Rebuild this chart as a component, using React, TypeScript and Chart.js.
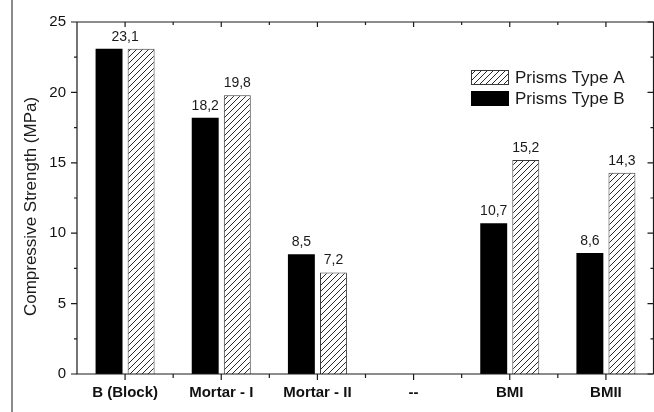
import React, { useEffect, useRef } from "react";
import { Chart, registerables } from "chart.js";

Chart.register(...registerables);

const categories = ["B (Block)", "Mortar - I", "Mortar - II", "--", "BMI", "BMII"];
const typeB: (number | null)[] = [23.1, 18.2, 8.5, null, 10.7, 8.6];
const typeA: (number | null)[] = [23.1, 19.8, 7.2, null, 15.2, 14.3];
const seriesLabels = ["Prisms Type B", "Prisms Type A"];
const yTitle = "Compressive Strength (MPa)";
const yMajorTicks = [0, 5, 10, 15, 20, 25];
const yMinorTicks = [2.5, 7.5, 12.5, 17.5, 22.5];

const FONT = "'Liberation Sans', Arial, sans-serif";
const AXIS_COLOR = "#1a1a1a";

function makeHatch(): CanvasPattern | string {
  const c = document.createElement("canvas");
  const s = 6;
  c.width = s;
  c.height = s;
  const g = c.getContext("2d");
  if (!g) return "#fff";
  g.fillStyle = "#fff";
  g.fillRect(0, 0, s, s);
  g.strokeStyle = "#2a2a2a";
  g.lineWidth = 1;
  g.beginPath();
  g.moveTo(-1, s + 1);
  g.lineTo(s + 1, -1);
  g.moveTo(-1, 1);
  g.lineTo(1, -1);
  g.moveTo(s - 1, s + 1);
  g.lineTo(s + 1, s - 1);
  g.stroke();
  const p = g.createPattern(c, "repeat");
  return p || "#fff";
}

const fmt = (v: number) => v.toFixed(1).replace(".", ",");

const framePlugin = {
  id: "frame",
  afterDraw(chart: any) {
    const ctx = chart.ctx as CanvasRenderingContext2D;
    const { left, right, top, bottom } = chart.chartArea;
    const xs = chart.scales.x;
    const ys = chart.scales.y;
    const r = right - 0.5;
    ctx.save();
    // page frame line
    ctx.fillStyle = "#8c8c8c";
    ctx.fillRect(11, 0, 2, chart.height);
    // axes box
    ctx.strokeStyle = AXIS_COLOR;
    ctx.lineWidth = 1.2;
    ctx.beginPath();
    ctx.moveTo(left, top);
    ctx.lineTo(r, top);
    ctx.lineTo(r, bottom);
    ctx.moveTo(left, top);
    ctx.lineTo(left, bottom);
    ctx.lineTo(r, bottom);
    ctx.stroke();
    // y ticks
    ctx.beginPath();
    yMajorTicks.forEach((v) => {
      const y = ys.getPixelForValue(v);
      ctx.moveTo(left - 6, y);
      ctx.lineTo(left, y);
      ctx.moveTo(r - 6, y);
      ctx.lineTo(r, y);
    });
    yMinorTicks.forEach((v) => {
      const y = ys.getPixelForValue(v);
      ctx.moveTo(left - 3, y);
      ctx.lineTo(left, y);
      ctx.moveTo(r - 3, y);
      ctx.lineTo(r, y);
    });
    // x ticks
    categories.forEach((_, i) => {
      const x = xs.getPixelForValue(i);
      ctx.moveTo(x, bottom);
      ctx.lineTo(x, bottom + 6);
      ctx.moveTo(x, top);
      ctx.lineTo(x, top + 5);
      if (i > 0) {
        const xm = (x + xs.getPixelForValue(i - 1)) / 2;
        ctx.moveTo(xm, bottom);
        ctx.lineTo(xm, bottom + 4);
        ctx.moveTo(xm, top);
        ctx.lineTo(xm, top + 3);
      }
    });
    ctx.stroke();

    // y axis title
    ctx.save();
    ctx.translate(35.5, 206.5);
    ctx.rotate(-Math.PI / 2);
    ctx.font = `17px ${FONT}`;
    ctx.fillStyle = "#1a1a1a";
    ctx.textAlign = "center";
    ctx.textBaseline = "alphabetic";
    ctx.fillText(yTitle, 0, 0);
    ctx.restore();

    // value labels
    ctx.fillStyle = "#1a1a1a";
    ctx.font = `14px ${FONT}`;
    ctx.textAlign = "center";
    ctx.textBaseline = "bottom";
    const m0 = chart.getDatasetMeta(0);
    const m1 = chart.getDatasetMeta(1);
    categories.forEach((_, i) => {
      const b = typeB[i];
      const a = typeA[i];
      if (b != null && a != null && b === a) {
        const e0 = m0.data[i];
        const e1 = m1.data[i];
        ctx.fillText(fmt(b), (e0.x + e1.x) / 2, Math.min(e0.y, e1.y) - 5);
        return;
      }
      if (b != null) {
        const e = m0.data[i];
        ctx.fillText(fmt(b), e.x, e.y - 5);
      }
      if (a != null) {
        const e = m1.data[i];
        ctx.fillText(fmt(a), e.x, e.y - 5);
      }
    });

    // legend (Type A first)
    const items = [1, 0];
    ctx.font = `17px ${FONT}`;
    ctx.textAlign = "left";
    ctx.textBaseline = "middle";
    items.forEach((di, k) => {
      const ds = chart.data.datasets[di];
      const bx = 471;
      const by = 70 + k * 21;
      ctx.fillStyle = ds.backgroundColor;
      ctx.fillRect(bx, by, 38, 15);
      ctx.strokeStyle = ds.borderColor;
      ctx.lineWidth = 1;
      ctx.strokeRect(bx + 0.5, by + 0.5, 37, 14);
      ctx.fillStyle = "#1a1a1a";
      ctx.fillText(ds.label, bx + 44, by + 8);
    });
    ctx.restore();
  },
};

export default function App() {
  const ref = useRef<HTMLCanvasElement | null>(null);
  useEffect(() => {
    if (!ref.current) return;
    const hatch = makeHatch();
    const chart = new Chart(ref.current, {
      type: "bar",
      data: {
        labels: categories,
        datasets: [
          {
            label: seriesLabels[0],
            data: typeB,
            backgroundColor: "#000000",
            borderColor: "#000000",
            borderWidth: 0,
            categoryPercentage: 0.667,
            barPercentage: 0.84,
          },
          {
            label: seriesLabels[1],
            data: typeA,
            backgroundColor: hatch as any,
            borderColor: "#3a3a3a",
            borderWidth: 1,
            categoryPercentage: 0.667,
            barPercentage: 0.84,
          },
        ],
      },
      options: {
        animation: false,
        responsive: true,
        maintainAspectRatio: false,
        layout: { padding: { top: 22, left: 0, right: 0, bottom: 0 } },
        plugins: {
          legend: { display: false },
          tooltip: { enabled: false },
        },
        scales: {
          x: {
            type: "category",
            grid: { display: false, drawTicks: false },
            border: { display: false },
            ticks: {
              color: "#111",
              font: { family: FONT, size: 15, weight: "bold" },
              padding: 10,
              maxRotation: 0,
              autoSkip: false,
            },
            afterFit: (s: any) => {
              s.height = 38;
            },
          },
          y: {
            min: 0,
            max: 25,
            grid: { display: false, drawTicks: false },
            border: { display: false },
            ticks: {
              stepSize: 5,
              color: "#111",
              font: { family: FONT, size: 15 },
              padding: 11,
            },
            afterFit: (s: any) => {
              s.width = 77;
            },
          },
        },
      },
      plugins: [framePlugin],
    });
    return () => chart.destroy();
  }, []);
  return (
    <div style={{ position: "absolute", left: 0, top: 0, width: 654, height: 412, background: "#fff" }}>
      <canvas ref={ref} />
    </div>
  );
}
